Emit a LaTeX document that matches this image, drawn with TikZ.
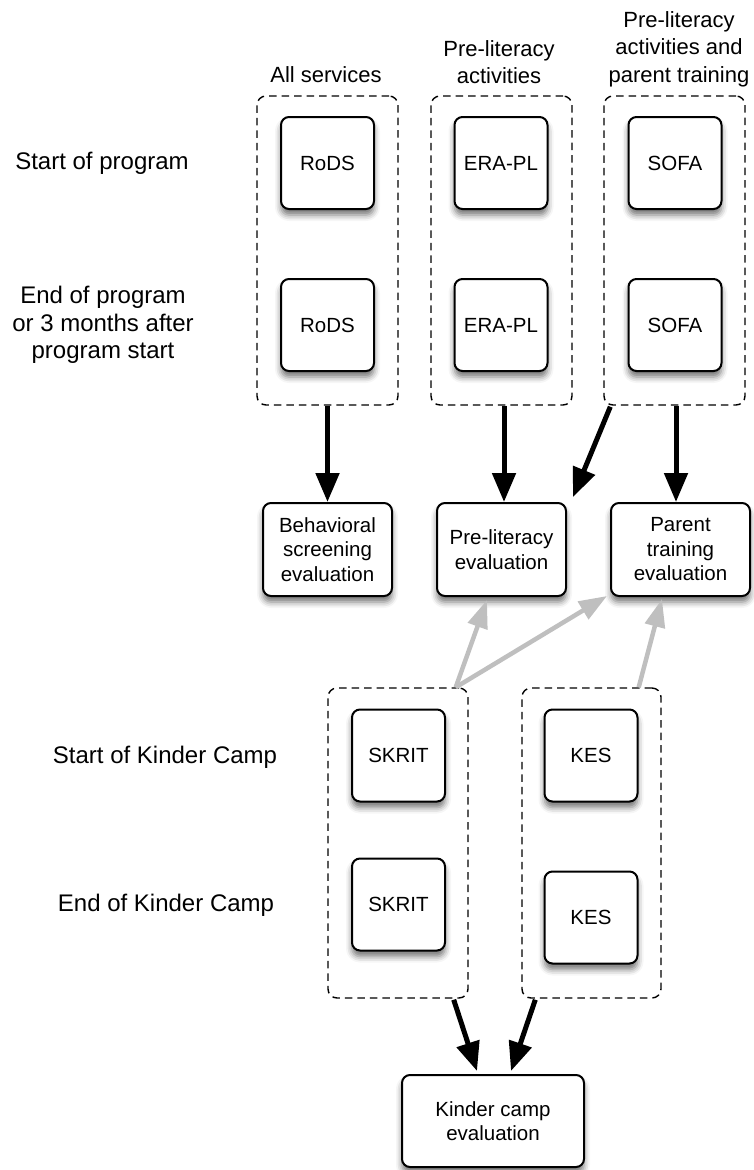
\documentclass[tikz,border=0pt]{standalone}
\usepackage{fontspec}
\setmainfont{Liberation Sans}
\usetikzlibrary{arrows.meta,calc,shadows.blur}
\begin{document}
\begin{tikzpicture}[x=1pt,y=-1pt,
  shadowed/.style={blur shadow={shadow xshift=0pt,shadow yshift=-6pt,shadow blur radius=6pt,shadow opacity=55}},
  box/.style={draw,line width=2pt,rounded corners=8pt,fill=white,minimum width=93pt,minimum height=92pt,
    font=\fontsize{20.5}{24.5}\selectfont,align=center,inner sep=0pt,shadowed},
  evalbox/.style={box,minimum width=129pt,minimum height=93pt},
  group/.style={draw,line width=1.4pt,dash pattern=on 7.5pt off 5pt,rounded corners=9pt,minimum width=141pt,minimum height=309pt,inner sep=0pt},
  sidelabel/.style={font=\fontsize{24}{27.5}\selectfont,align=center,inner sep=0pt},
  toplabel/.style={font=\fontsize{22}{27.5}\selectfont,align=center,inner sep=0pt},
  blackarrow/.style={line width=5pt,-{Triangle[length=29pt,width=23pt]}},
  grayarrow/.style={draw=black!25,line width=4.5pt,-{Triangle[length=28pt,width=20pt]}}
]
\useasboundingbox (0,0) rectangle (754,1170);

% column labels
\node[toplabel] (tl1) at (326,75) {All services};
\node[toplabel] (tl2) at (499,62) {Pre-literacy\\activities};
\node[toplabel] (tl3) at (679,49) {Pre-literacy\\activities and\\parent training};

% row labels
\node[sidelabel] (sl1) at (102,163) {Start of program};
\node[sidelabel] (sl2) at (103,325) {End of program\\or 3 months after\\program start};
\node[sidelabel] (sl3) at (165,757) {Start of Kinder Camp};
\node[sidelabel] (sl4) at (166,905) {End of Kinder Camp};

% groups (top)
\node[group] (g1) at (327.5,250.5) {};
\node[group] (g2) at (501.5,250.5) {};
\node[group] (g3) at (674.5,250.5) {};

% instrument boxes (top)
\node[box] (r1) at (327.5,163) {RoDS};
\node[box] (r2) at (327.5,325) {RoDS};
\node[box] (e1) at (501,163) {ERA-PL};
\node[box] (e2) at (501,325) {ERA-PL};
\node[box] (s1) at (675,163) {SOFA};
\node[box] (s2) at (675,325) {SOFA};

% evaluation boxes
\node[evalbox] (be) at (327.5,549.5) {Behavioral\\screening\\evaluation};
\node[evalbox] (pl) at (501.5,549.5) {Pre-literacy\\evaluation};
\node[evalbox,minimum width=139pt] (pe) at (680.5,549.5) {Parent\\training\\evaluation};

% groups (bottom)
\node[group,minimum width=140pt,minimum height=310pt] (gs) at (398,843) {};
\node[group,minimum width=139pt,minimum height=310pt] (gk) at (591.5,843) {};

% instrument boxes (bottom)
\node[box] (k1) at (398.5,755.5) {SKRIT};
\node[box] (k2) at (398.5,904.5) {SKRIT};
\node[box] (m1) at (591,755.5) {KES};
\node[box] (m2) at (591,917.5) {KES};

% kinder camp evaluation
\node[evalbox,minimum width=182pt,minimum height=92pt] (ke) at (493,1121) {Kinder camp\\evaluation};

% black arrows
\draw[blackarrow] (g1.south) -- (be.north);
\draw[blackarrow] ($(g2.south)+(2.5,0)$) -- ($(pl.north)+(2.5,0)$);
\draw[blackarrow] ($(g3.south)+(1.5,0)$) -- ($(g3.south |- pe.north)+(1.5,0)$);
\draw[blackarrow] ($(g3.south west)+(7,1)$) -- ($(pl.north east)+(6,-5)$);
\draw[blackarrow] ($(gs.south east)+(-15,1)$) -- ($(ke.north)+(-16,-3)$);
\draw[blackarrow] ($(gk.south west)+(14,1)$) -- ($(ke.north)+(18,-3)$);

% gray arrows
\draw[grayarrow] ($(gs.north east)+(-13,0)$) -- ($(pl.south)+(-14.5,3)$);
\draw[grayarrow] ($(gs.north east)+(-13,0)$) -- ($(pe.south west)+(-3,-1)$);
\draw[grayarrow] ($(gk.north east)+(-23,0)$) -- ($(pe.south)+(-18.5,2)$);
\end{tikzpicture}
\end{document}
